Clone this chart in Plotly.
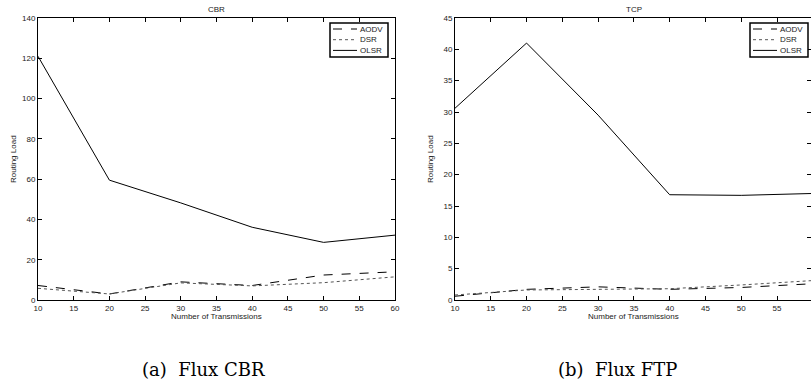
import plotly.graph_objects as go

transmissions = [10, 20, 30, 40, 50, 60]

cbr_aodv = [7.2, 3.0, 9.0, 7.2, 12.4, 14.0]
cbr_dsr = [5.8, 3.0, 8.5, 7.0, 8.6, 11.5]
cbr_olsr = [121.0, 59.5, 48.2, 36.1, 28.6, 32.2]

tcp_aodv = [0.6, 1.7, 2.1, 1.7, 2.0, 2.6]
tcp_dsr = [0.8, 1.6, 1.7, 1.8, 2.4, 3.1]
tcp_olsr = [30.6, 41.0, 29.5, 16.8, 16.7, 17.0]

series_names = ["AODV", "DSR", "OLSR"]
dashes = ["dash", "dot", "solid"]
colors = ["black", "#555555", "black"]

W, H = 811, 380
FONT = "Liberation Sans, Arial, sans-serif"
TXT = "#222"


def px(x):
    return x / W


def py(y):
    return (H - y) / H


fig = go.Figure()

for name, vals, dash, col in zip(series_names, [cbr_aodv, cbr_dsr, cbr_olsr], dashes, colors):
    fig.add_trace(go.Scatter(x=transmissions, y=vals, mode="lines", name=name,
                             line=dict(color=col, width=1, dash=dash),
                             xaxis="x", yaxis="y", showlegend=False))
for name, vals, dash, col in zip(series_names, [tcp_aodv, tcp_dsr, tcp_olsr], dashes, colors):
    fig.add_trace(go.Scatter(x=transmissions, y=vals, mode="lines", name=name,
                             line=dict(color=col, width=1, dash=dash),
                             xaxis="x2", yaxis="y2", showlegend=False))

ax_common = dict(showline=True, linecolor="black", linewidth=1, mirror="ticks",
                 ticks="inside", ticklen=4, tickcolor="black", showgrid=False,
                 zeroline=False, automargin=False,
                 tickfont=dict(family=FONT, size=8, color=TXT))

y_dom = [py(300), py(18)]

annotations = []
shapes = []

panels = [
    dict(x0=38, x1=395, title="CBR", caption="(a)  Flux CBR", cap_x=203, leg_right=388),
    dict(x0=455, x1=812, title="TCP", caption="(b)  Flux FTP", cap_x=617, leg_right=808),
]


def label(text, x, y, size=8, family=FONT, color=TXT, **kw):
    d = dict(text=text, x=px(x), y=py(y), xref="paper", yref="paper", showarrow=False,
             xanchor=kw.pop("xanchor", "center"), yanchor="middle",
             font=dict(family=family, size=size, color=color))
    d.update(kw)
    return d


for p in panels:
    cx = 0.5 * (p["x0"] + p["x1"])
    annotations.append(label(p["title"], cx, 10))
    annotations.append(label("Number of Transmissions", cx, 316))
    annotations.append(label("Routing Load", p["x0"] - 25, 159, textangle=-90))
    annotations.append(label(p["caption"], p["cap_x"], 369, size=18,
                             family="DejaVu Serif, serif", color="black"))
    # legend box
    lr = p["leg_right"]
    ll = lr - 58
    shapes.append(dict(type="rect", xref="paper", yref="paper", x0=px(ll), x1=px(lr),
                       y0=py(57), y1=py(23), line=dict(color="black", width=1.5),
                       fillcolor="white", layer="above"))
    for i, (name, dash, col) in enumerate(zip(series_names, dashes, colors)):
        yy = 29 + 10.7 * i
        shapes.append(dict(type="line", xref="paper", yref="paper", x0=px(ll + 3), x1=px(ll + 27),
                           y0=py(yy), y1=py(yy), line=dict(color=col, width=1, dash=dash),
                           layer="above"))
        annotations.append(label(name, ll + 28, yy, xanchor="left"))

annotations.append(dict(text="60", x=60, xref="x2", y=py(307), yref="paper", yanchor="middle",
                        showarrow=False, font=dict(family=FONT, size=8, color=TXT)))

fig.update_layout(
    width=W, height=H,
    margin=dict(l=0, r=0, t=0, b=0, autoexpand=False),
    paper_bgcolor="white", plot_bgcolor="white",
    showlegend=False,
    xaxis=dict(domain=[px(38), px(395)], range=[10, 60], dtick=5, tick0=10, anchor="y", **ax_common),
    yaxis=dict(domain=y_dom, range=[0, 140], dtick=20, anchor="x", **ax_common),
    xaxis2=dict(domain=[px(455), 1.0], range=[10, 59.75], dtick=5, tick0=10, anchor="y2", **ax_common),
    yaxis2=dict(domain=y_dom, range=[0, 45], dtick=5, anchor="x2", **ax_common),
    annotations=annotations,
    shapes=shapes,
)

fig.write_html("out.html", config={"displayModeBar": False},
               post_script="document.body.style.margin='0';document.body.style.overflow='hidden';")
